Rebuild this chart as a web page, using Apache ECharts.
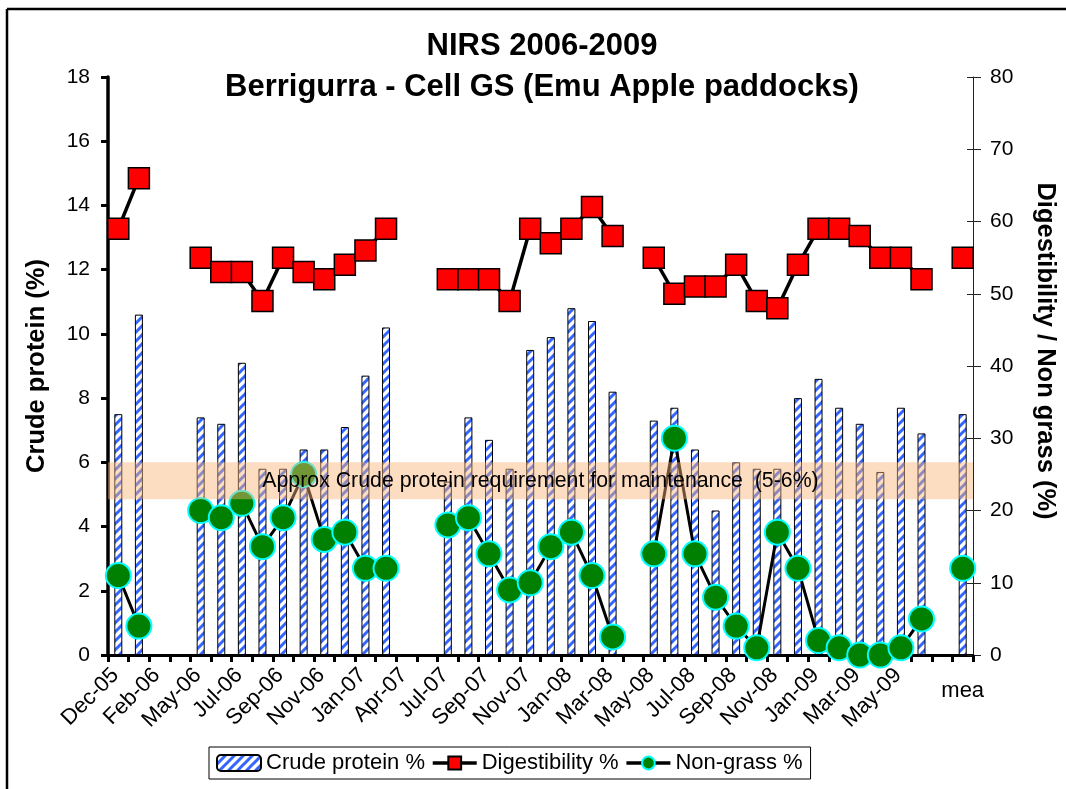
<!DOCTYPE html>
<html>
<head>
<meta charset="utf-8">
<script src="https://cdn.jsdelivr.net/npm/echarts@6/dist/echarts.min.js"></script>
<style>
html,body{margin:0;padding:0;background:#fff;}
#chart{width:1066px;height:789px;}
</style>
</head>
<body>
<div id="chart"></div>
<script>
// ---------- data ----------
const titleLines = ['NIRS 2006-2009', 'Berrigurra - Cell GS (Emu Apple paddocks)'];
const categories = ['Dec-05','Jan-06','Feb-06','Apr-06','May-06','Jun-06','Jul-06','Aug-06','Sep-06','Oct-06',
  'Nov-06','Dec-06','Jan-07','Mar-07','Apr-07','Jun-07','Jul-07','Aug-07','Sep-07','Oct-07',
  'Nov-07','Dec-07','Jan-08','Feb-08','Mar-08','Apr-08','May-08','Jun-08','Jul-08','Aug-08',
  'Sep-08','Oct-08','Nov-08','Dec-08','Jan-09','Feb-09','Mar-09','Apr-09','May-09','Jun-09',
  '','mea'];
const crudeProtein = [7.5,10.6,null,null,7.4,7.2,9.1,5.8,5.8,6.4,
  6.4,7.1,8.7,10.2,null,null,5.4,7.4,6.7,5.8,
  9.5,9.9,10.8,10.4,8.2,null,7.3,7.7,6.4,4.5,
  6.0,5.8,5.8,8.0,8.6,7.7,7.2,5.7,7.7,6.9,
  null,7.5];
const digestibility = [59,66,null,null,55,53,53,49,55,53,
  52,54,56,59,null,null,52,52,52,49,
  59,57,59,62,58,null,55,50,51,51,
  54,49,48,54,59,59,58,55,55,52,
  null,55];
const nonGrass = [11,4,null,null,20,19,21,15,19,25,
  16,17,12,12,null,null,18,19,14,9,
  10,15,17,11,2.5,null,14,30,14,8,
  4,1,17,12,2,1,0,0,1,5,
  null,12];
const leftAxisTicks = [0, 18, 2];    // min, max, interval
const rightAxisTicks = [0, 80, 10];  // min, max, interval
const maintenanceBand = [4.85, 6];
const bandLabel = 'Approx Crude protein requirement for maintenance  (5-6%)';
const seriesNames = ['Crude protein %', 'Digestibility %', 'Non-grass %'];
const axisNames = ['Crude protein (%)', 'Digestibility / Non grass (%)'];

// ---------- styling helpers ----------
const FONT = '"Liberation Sans", Arial, sans-serif';
const meanIndex = categories.length - 1;

function stripePattern() {
  const s = 9;
  const c = document.createElement('canvas');
  c.width = s; c.height = s;
  const g = c.getContext('2d');
  g.fillStyle = '#ffffff';
  g.fillRect(0, 0, s, s);
  g.strokeStyle = '#3366ff';
  g.lineWidth = 3;
  g.beginPath();
  g.moveTo(-2, s + 2); g.lineTo(s + 2, -2);
  g.moveTo(-2, 2); g.lineTo(2, -2);
  g.moveTo(s - 2, s + 2); g.lineTo(s + 2, s - 2);
  g.stroke();
  return c;
}

const chart = echarts.init(document.getElementById('chart'), null, {renderer: 'canvas'});

const option = {
  animation: false,
  backgroundColor: '#ffffff',
  textStyle: {fontFamily: FONT, color: '#000'},
  grid: {left: 108, right: 89, top: 77, bottom: 134},
  legend: {
    data: seriesNames,
    left: 209,
    top: 747,
    orient: 'horizontal',
    backgroundColor: '#fff',
    borderColor: '#000',
    borderWidth: 1,
    padding: [5, 8, 5, 7],
    itemGap: 6,
    itemWidth: 44,
    itemHeight: 16,
    selectedMode: false,
    lineStyle: {width: 3.5, color: '#000'},
    textStyle: {fontFamily: FONT, fontSize: 22, color: '#000'}
  },
  xAxis: [
    {
      type: 'category',
      data: categories,
      position: 'bottom',
      boundaryGap: true,
      axisLine: {show: true, lineStyle: {color: '#000', width: 3}},
      axisTick: {show: true, interval: 0, length: 7, lineStyle: {color: '#000', width: 3}},
      axisLabel: {
        interval: function (i) { return i % 2 === 0 && i < meanIndex - 1; },
        rotate: 45, margin: 14, fontSize: 22, color: '#000', fontFamily: FONT,
        padding: [0, 4, 21, 0]
      },
      splitLine: {show: false}
    },
    {
      type: 'category',
      data: categories,
      position: 'bottom',
      axisLine: {show: false},
      axisTick: {show: false},
      axisLabel: {
        interval: function (i) { return i === meanIndex; },
        rotate: 0, margin: 25, fontSize: 22, color: '#000', fontFamily: FONT
      },
      splitLine: {show: false}
    }
  ],
  yAxis: [
    {
      type: 'value', position: 'left',
      min: leftAxisTicks[0], max: leftAxisTicks[1], interval: leftAxisTicks[2],
      name: axisNames[0], nameLocation: 'middle', nameGap: 58, nameRotate: 90,
      nameTextStyle: {fontFamily: FONT, fontSize: 25.5, fontWeight: 'bold', color: '#000'},
      axisLine: {show: true, lineStyle: {color: '#000', width: 3.5}},
      axisTick: {show: true, length: 7, lineStyle: {color: '#000', width: 3}},
      axisLabel: {fontSize: 21, margin: 18, color: '#000', fontFamily: FONT},
      splitLine: {show: false}
    },
    {
      type: 'value', position: 'right',
      min: rightAxisTicks[0], max: rightAxisTicks[1], interval: rightAxisTicks[2],
      name: axisNames[1], nameLocation: 'middle', nameGap: 59, nameRotate: -90,
      nameTextStyle: {fontFamily: FONT, fontSize: 25.5, fontWeight: 'bold', color: '#000', padding: [0, 30, 0, 0]},
      axisLine: {show: true, lineStyle: {color: '#222', width: 1}},
      axisTick: {show: true, length: 8, lineStyle: {color: '#222', width: 1}},
      axisLabel: {fontSize: 21, margin: 17, color: '#000', fontFamily: FONT},
      splitLine: {show: false}
    },
    {
      type: 'value', position: 'right',
      min: rightAxisTicks[0], max: rightAxisTicks[1], interval: rightAxisTicks[2],
      axisLine: {show: false},
      axisTick: {show: true, inside: true, length: 6, lineStyle: {color: '#222', width: 1}},
      axisLabel: {show: false},
      splitLine: {show: false}
    }
  ],
  series: [
    {
      name: seriesNames[0],
      type: 'bar',
      xAxisIndex: 0, yAxisIndex: 0,
      data: crudeProtein,
      barWidth: 8,
      z: 2,
      itemStyle: {color: {image: stripePattern(), repeat: 'repeat'}, borderColor: '#000', borderWidth: 1}
    },
    {
      name: seriesNames[1],
      type: 'line',
      xAxisIndex: 0, yAxisIndex: 1,
      data: digestibility,
      symbol: 'rect', symbolSize: 21,
      showSymbol: true, showAllSymbol: true,
      clip: false,
      z: 3,
      lineStyle: {color: '#000', width: 3.5},
      itemStyle: {color: '#ff0000', borderColor: '#000', borderWidth: 1.5}
    },
    {
      name: seriesNames[2],
      type: 'line',
      xAxisIndex: 0, yAxisIndex: 1,
      data: nonGrass,
      symbol: 'circle', symbolSize: 25,
      showSymbol: true, showAllSymbol: true,
      clip: false,
      z: 4,
      lineStyle: {color: '#000', width: 3},
      itemStyle: {color: '#008000', borderColor: '#00ffff', borderWidth: 2}
    },
    {
      name: 'band',
      type: 'line',
      xAxisIndex: 0, yAxisIndex: 0,
      data: [],
      z: 10,
      silent: true,
      markArea: {
        silent: true,
        z: 10,
        itemStyle: {color: 'rgba(250,180,120,0.45)'},
        label: {show: true, position: 'inside', formatter: bandLabel, color: '#000', fontSize: 21.3, fontFamily: FONT},
        data: [[{yAxis: maintenanceBand[0]}, {yAxis: maintenanceBand[1]}]]
      }
    }
  ],
  graphic: [
    {
      type: 'text', x: 542, y: 26, z: 100,
      style: {
        text: titleLines.join('\n'),
        fill: '#000',
        font: 'bold 31px "Liberation Sans", Arial, sans-serif',
        align: 'center', textAlign: 'center',
        verticalAlign: 'top', textVerticalAlign: 'top',
        lineHeight: 41
      }
    },
    {type: 'line', shape: {x1: 7, y1: 9, x2: 1066, y2: 9}, style: {stroke: '#000', lineWidth: 2.5}, z: 100},
    {type: 'line', shape: {x1: 7, y1: 9, x2: 7, y2: 789}, style: {stroke: '#000', lineWidth: 2.5}, z: 100}
  ]
};

chart.setOption(option);
</script>
</body>
</html>
